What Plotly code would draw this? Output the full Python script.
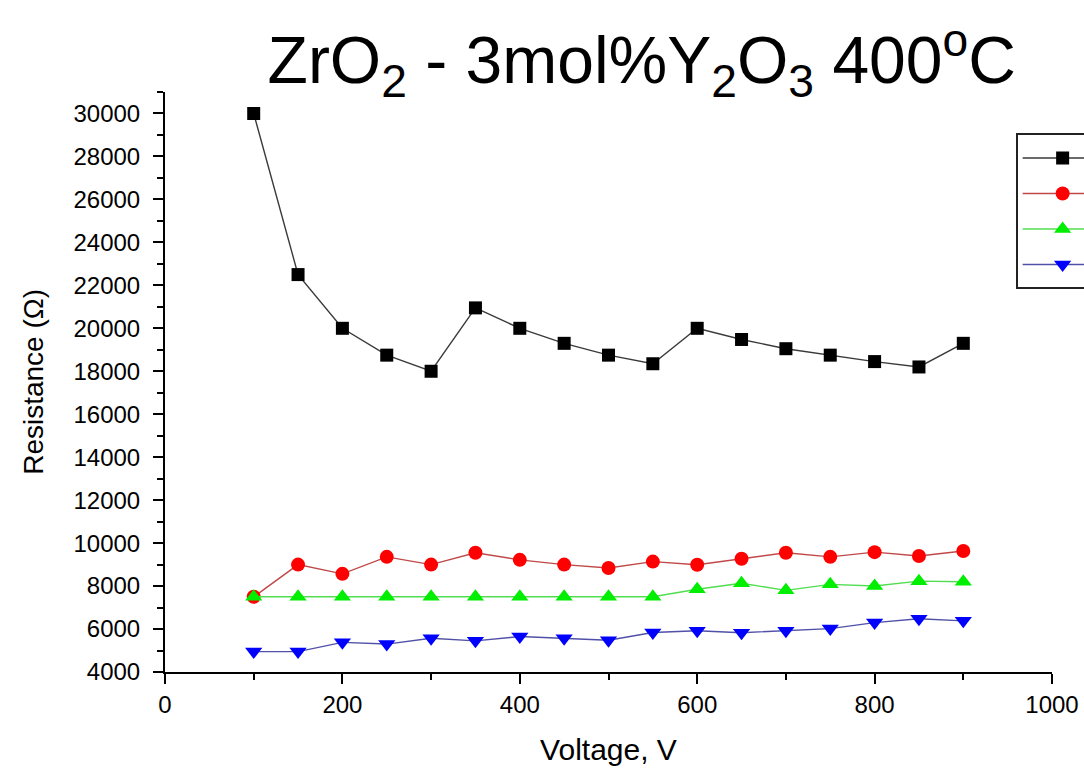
import plotly.graph_objects as go

voltage = [100, 150, 200, 250, 300, 350, 400, 450, 500, 550, 600, 650, 700, 750, 800, 850, 900]
series_names = [" ", "  ", "   ", "    "]
res_black = [30000, 22500, 20000, 18750, 18000, 20950, 20000, 19300, 18750, 18350, 20000, 19480, 19050, 18750, 18450, 18200, 19300]
res_red = [7500, 9000, 8570, 9360, 9000, 9550, 9220, 9000, 8840, 9140, 8990, 9270, 9550, 9360, 9580, 9400, 9630]
res_green = [7500, 7500, 7500, 7500, 7500, 7500, 7500, 7500, 7500, 7500, 7850, 8130, 7800, 8080, 8000, 8230, 8200]
res_blue = [4950, 4950, 5380, 5300, 5570, 5450, 5650, 5570, 5480, 5840, 5920, 5830, 5920, 6020, 6300, 6480, 6380]

marker_colors = ["#000000", "#FF0000", "#00EE00", "#0000FF"]
line_colors = ["#3a3a3a", "#C04848", "#50DD50", "#5050A8"]
symbols = ["square", "circle", "triangle-up", "triangle-down"]
sizes = [13, 14, 15, 15]
all_series = [res_black, res_red, res_green, res_blue]

fig = go.Figure()
for name, ys, mc, lc, sym, sz in zip(series_names, all_series, marker_colors, line_colors, symbols, sizes):
    fig.add_trace(go.Scatter(
        x=voltage, y=ys, name=name, mode="lines+markers",
        line=dict(color=lc, width=1.4),
        marker=dict(color=mc, symbol=sym, size=sz, line=dict(width=0)),
    ))

font_family = "Liberation Sans, Arial, sans-serif"
fig.update_layout(
    width=1084, height=772,
    paper_bgcolor="white", plot_bgcolor="white",
    margin=dict(l=165, r=32, t=92, b=100, autoexpand=False),
    font=dict(family=font_family, color="black", size=24),
    title=dict(
        text="ZrO<sub>2</sub> - 3mol%Y<sub>2</sub>O<sub>3</sub> 400<sup>o</sup>C",
        x=0.592, xanchor="center", xref="container",
        y=0.952, yanchor="top", yref="container",
        font=dict(size=66, family=font_family, color="black"),
    ),
    showlegend=True,
    legend=dict(
        x=0.959, xanchor="left", y=0.929, yanchor="top",
        bordercolor="#222222", borderwidth=2, bgcolor="white",
        font=dict(size=25, family=font_family, color="black"),
        itemwidth=80, tracegroupgap=0,
    ),
    annotations=[dict(
        text="Resistance (Ω)", xref="paper", yref="paper",
        x=-0.149, y=0.5, xanchor="center", yanchor="middle",
        textangle=-90, showarrow=False,
        font=dict(size=28, family=font_family, color="black"),
    )],
)
fig.update_xaxes(
    range=[0, 1000], tick0=0, dtick=200, tickformat="d",
    showline=True, linecolor="black", linewidth=2,
    ticks="outside", ticklen=10, tickwidth=2, tickcolor="black",
    minor=dict(dtick=100, ticks="outside", ticklen=6, tickwidth=2, tickcolor="black"),
    showgrid=False, zeroline=False,
    tickfont=dict(size=24),
    title=dict(text="Voltage, V", font=dict(size=30), standoff=22),
)
fig.update_yaxes(
    range=[4000, 31000], tick0=0, dtick=2000, tickformat="d",
    showline=True, linecolor="black", linewidth=2,
    ticks="outside", ticklen=10, tickwidth=2, tickcolor="black",
    minor=dict(dtick=1000, ticks="outside", ticklen=6, tickwidth=2, tickcolor="black"),
    showgrid=False, zeroline=False,
    tickfont=dict(size=24), ticklabelstandoff=8,
)

fig.write_html("out.html", config={"displayModeBar": False},
               post_script="document.body.style.margin='0';")
